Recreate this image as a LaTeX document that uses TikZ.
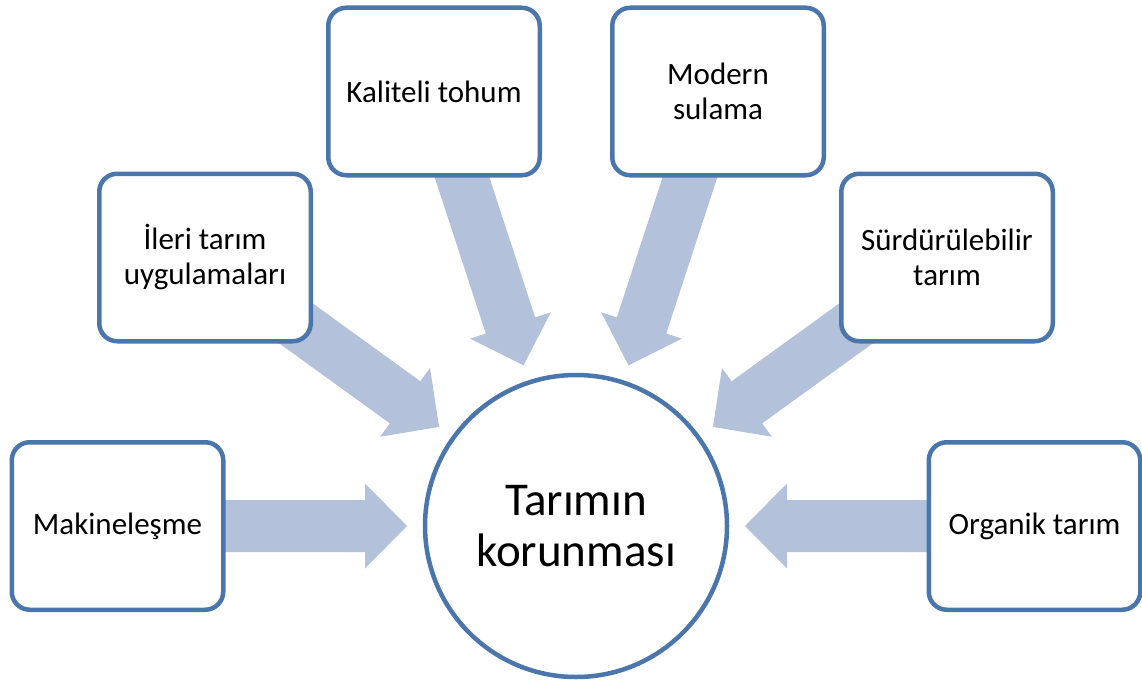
\documentclass[tikz,border=0pt]{standalone}
\usepackage{fontspec}
\setmainfont{Carlito}
\usetikzlibrary{calc,backgrounds}
\definecolor{boxline}{RGB}{74,118,172}
\definecolor{arrowfill}{RGB}{179,194,218}
\tikzset{
  itembox/.style={draw=boxline, line width=4.5pt, fill=white, rounded corners=18pt,
    minimum width=211.5pt, minimum height=167.5pt, inner sep=0pt, align=center,
    font=\fontsize{31}{35}\selectfont},
  hubcircle/.style={draw=boxline, line width=4.5pt, fill=white, circle,
    minimum size=302pt, inner sep=0pt, align=center,
    font=\fontsize{47}{51}\selectfont},
  blockarrow/.style={fill=arrowfill, draw=none}
}
\newcommand{\inarrow}[2]{%
  \fill[blockarrow]
    ($(#1)!169pt!(#2)$) coordinate (tip#2)
    -- ($($(#1)!211pt!(#2)$)!42.5pt!90:(#2)$)
    -- ($($(#1)!211pt!(#2)$)!26pt!90:(#2)$)
    -- ($(#2)!26pt!-90:(#1)$)
    -- ($(#2)!26pt!90:(#1)$)
    -- ($($(#1)!211pt!(#2)$)!26pt!-90:(#2)$)
    -- ($($(#1)!211pt!(#2)$)!42.5pt!-90:(#2)$)
    -- cycle;}
\begin{document}
\begin{tikzpicture}[x=1pt,y=-1pt]
\useasboundingbox (0,0) rectangle (1142,682);
\node[hubcircle] (c) at (576,526) {Tarımın\\korunması};
\node[itembox] (b1) at (117.5,526) {Makineleşme};
\node[itembox] (b2) at (205,257.5) {İleri tarım\\uygulamaları};
\node[itembox] (b3) at (434,91.5) {Kaliteli tohum};
\node[itembox] (b4) at (718,91.5) {Modern\\sulama};
\node[itembox] (b5) at (947,257.5) {Sürdürülebilir\\tarım};
\node[itembox] (b6) at (1034.5,526) {Organik tarım};
\begin{scope}[on background layer]
\inarrow{c}{b1}
\inarrow{c}{b2}
\inarrow{c}{b3}
\inarrow{c}{b4}
\inarrow{c}{b5}
\inarrow{c}{b6}
\end{scope}
\end{tikzpicture}
\end{document}
